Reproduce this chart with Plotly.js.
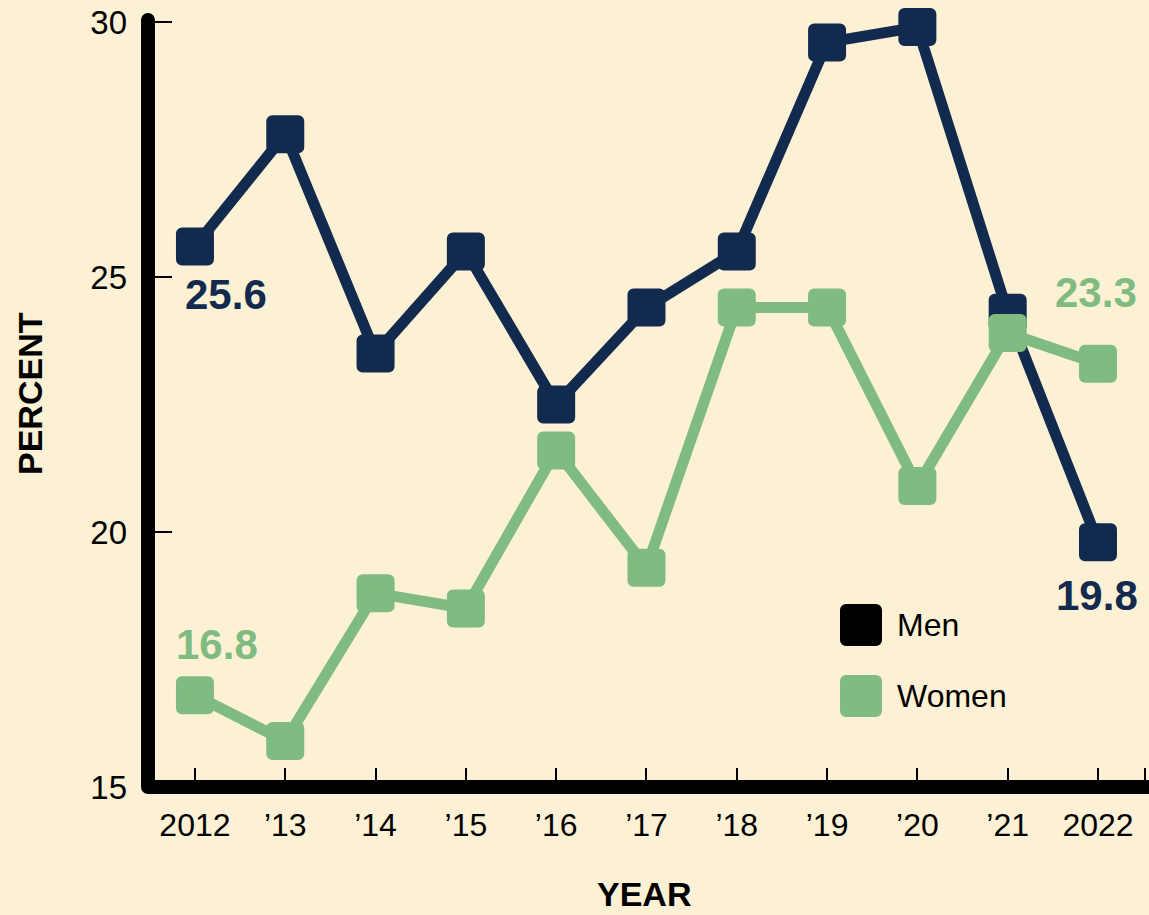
<!DOCTYPE html>
<html>
<head>
<meta charset="utf-8">
<script src="https://cdn.plot.ly/plotly-3.0.1.min.js"></script>
<style>
  html, body { margin: 0; padding: 0; background: #fcf1d4; }
  #chart { width: 1149px; height: 915px; }
  .js-plotly-plot .scatterlayer path.point { stroke-linejoin: round !important; }
  .js-plotly-plot .shapelayer path { stroke-linejoin: round !important; stroke-linecap: round !important; }
</style>
</head>
<body>
<div id="chart"></div>
<script>
// ---- data ----
const years = [2012, 2013, 2014, 2015, 2016, 2017, 2018, 2019, 2020, 2021, 2022];
const tickLabels = ['2012', '\u201913', '\u201914', '\u201915', '\u201916', '\u201917', '\u201918', '\u201919', '\u201920', '\u201921', '2022'];
const men   = [25.6, 27.8, 23.5, 25.5, 22.5, 24.4, 25.5, 29.6, 29.9, 24.3, 19.8];
const women = [16.8, 15.9, 18.8, 18.5, 21.6, 19.3, 24.4, 24.4, 20.9, 23.9, 23.3];
const seriesNames = ['Men', 'Women'];

// ---- styles ----
const NAVY = '#132a4f';
const GREEN = '#80bb81';
const FONT = 'Liberation Sans, Arial, Helvetica, sans-serif';

function series(name, y, color) {
  return {
    type: 'scatter', mode: 'lines+markers', name: name,
    x: years, y: y,
    line: { color: color, width: 11 },
    marker: { symbol: 'square', size: 26, color: color, line: { color: color, width: 12 } },
    cliponaxis: false, showlegend: false, hoverinfo: 'x+y'
  };
}

const data = [series(seriesNames[0], men, NAVY), series(seriesNames[1], women, GREEN)];

const L = 148, T = 20, B = 128, W = 1149, H = 915;
const plotW = W - L, plotH = H - T - B;
function px2paperX(px) { return (px - L) / plotW; }
function px2paperY(py) { return (H - B - py) / plotH; }

const last = years.length - 1;
const annotations = [
  { x: years[0], y: men[0], text: men[0].toFixed(1), xshift: 31, yshift: -48, color: NAVY },
  { x: years[0], y: women[0], text: women[0].toFixed(1), xshift: 22, yshift: 51, color: GREEN },
  { x: years[last], y: women[last], text: women[last].toFixed(1), xshift: -2, yshift: 71, color: GREEN },
  { x: years[last], y: men[last], text: men[last].toFixed(1), xshift: -1, yshift: -53, color: NAVY }
].map(a => ({
  x: a.x, y: a.y, xref: 'x', yref: 'y', text: a.text, showarrow: false,
  xshift: a.xshift, yshift: a.yshift,
  font: { family: FONT, size: 42, color: a.color, weight: 'bold' },
  xanchor: 'center', yanchor: 'middle'
}));

// axis titles
annotations.push({
  xref: 'paper', yref: 'paper', x: px2paperX(30), y: px2paperY(394),
  text: '<b>PERCENT</b>', textangle: -90, showarrow: false,
  font: { family: FONT, size: 34, color: '#000' }, xanchor: 'center', yanchor: 'middle'
});
annotations.push({
  xref: 'paper', yref: 'paper', x: px2paperX(644), y: px2paperY(894),
  text: '<b>YEAR</b>', showarrow: false,
  font: { family: FONT, size: 34, color: '#000' }, xanchor: 'center', yanchor: 'middle'
});

// legend texts
const legendRows = [{ name: seriesNames[0], color: '#000000', cy: 625 }, { name: seriesNames[1], color: GREEN, cy: 696 }];
legendRows.forEach(r => {
  annotations.push({
    xref: 'paper', yref: 'paper', x: px2paperX(895), y: px2paperY(r.cy),
    text: r.name, showarrow: false, xanchor: 'left', yanchor: 'middle',
    font: { family: FONT, size: 32, color: '#000' }
  });
});

const shapes = [
  {
    type: 'path', xref: 'paper', yref: 'paper', layer: 'above',
    path: 'M 0,1 L 0,0 L 1.05,0',
    line: { color: '#000', width: 14 }
  }
];
legendRows.forEach(r => {
  shapes.push({
    type: 'rect', xref: 'paper', yref: 'paper', layer: 'above',
    xsizemode: 'pixel', ysizemode: 'pixel',
    xanchor: px2paperX(861), yanchor: px2paperY(r.cy),
    x0: -15, x1: 15, y0: -15, y1: 15,
    fillcolor: r.color, line: { color: r.color, width: 12 }
  });
});

const layout = {
  width: W, height: H,
  margin: { l: L, r: 0, t: T, b: B, pad: 0 },
  paper_bgcolor: '#fcf1d4', plot_bgcolor: 'rgba(0,0,0,0)',
  showlegend: false,
  font: { family: FONT, color: '#000' },
  xaxis: {
    range: [2011.48, 2022.565],
    tickvals: years.concat([2022.52]),
    ticktext: tickLabels.concat(['']),
    ticks: 'inside', ticklen: 19, tickwidth: 2, tickcolor: '#000',
    showgrid: false, zeroline: false, showline: false,
    tickfont: { family: FONT, size: 32, color: '#000' },
    ticklabelstandoff: 16, fixedrange: true
  },
  yaxis: {
    range: [15, 15 + (915 - 128 - 20) / 51],
    tickvals: [15, 20, 25, 30],
    ticks: 'inside', ticklen: 24, tickwidth: 2, tickcolor: '#000',
    showgrid: false, zeroline: false, showline: false,
    tickfont: { family: FONT, size: 33, color: '#000' },
    ticklabelstandoff: 20, fixedrange: true
  },
  annotations: annotations,
  shapes: shapes
};

Plotly.newPlot('chart', data, layout, { displayModeBar: false, staticPlot: true });
</script>
</body>
</html>
